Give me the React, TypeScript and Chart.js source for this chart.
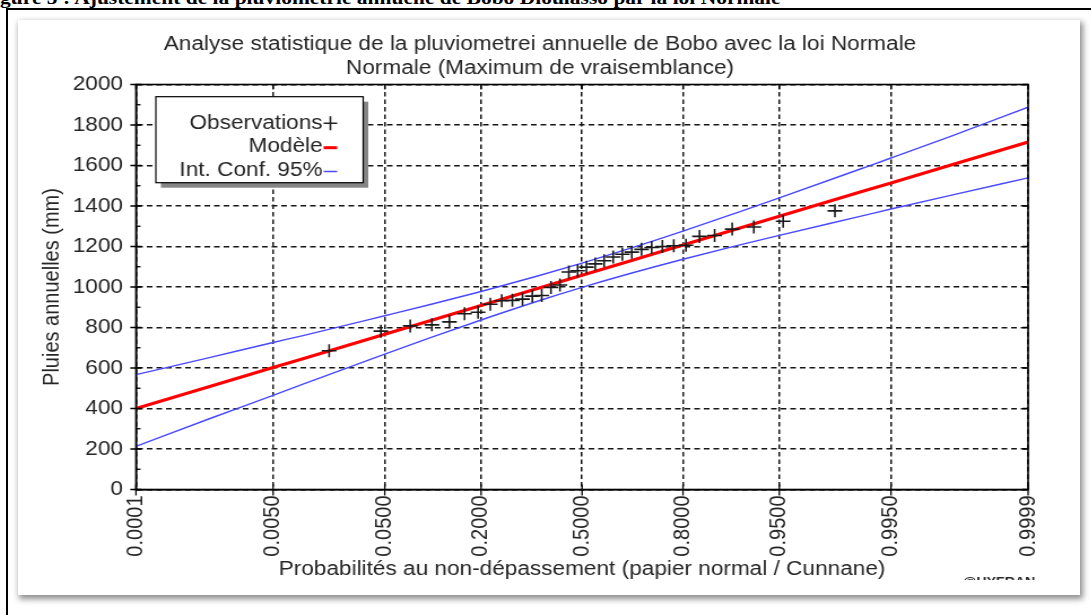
import React, { useEffect, useRef } from "react";
import { Chart, registerables } from "chart.js";

Chart.register(...registerables);

// ---- data ----
const TICK_PROBS = [0.0001, 0.005, 0.05, 0.2, 0.5, 0.8, 0.95, 0.995, 0.9999];
const TICK_LABELS = ["0.0001", "0.0050", "0.0500", "0.2000", "0.5000", "0.8000", "0.9500", "0.9950", "0.9999"];

const OBS_PROBS = [
  0.0175, 0.0468, 0.076, 0.1053, 0.1345, 0.1637, 0.193, 0.2222, 0.2515, 0.2807, 0.3099, 0.3392,
  0.3684, 0.3977, 0.4269, 0.4561, 0.4854, 0.5146, 0.5439, 0.5731, 0.6023, 0.6316, 0.6608, 0.6901,
  0.7193, 0.7485, 0.7778, 0.807, 0.8363, 0.8655, 0.8947, 0.924, 0.9532, 0.9825,
];
const OBS_VALUES = [
  685, 782, 808, 813, 828, 868, 875, 915, 932, 934, 940, 955, 958, 998, 1010, 1074, 1080, 1098,
  1114, 1130, 1148, 1162, 1172, 1186, 1195, 1200, 1204, 1206, 1250, 1254, 1286, 1296, 1325, 1376,
];

const CURVE_PROBS = [
  0.0001, 0.001, 0.005, 0.01, 0.05, 0.1, 0.2, 0.35, 0.5, 0.65, 0.8, 0.9, 0.95, 0.99, 0.995, 0.999, 0.9999,
];
const MODEL_VALUES = [400, 511, 602, 646, 767, 831, 909, 990, 1058, 1126, 1207, 1285, 1349, 1470, 1514, 1605, 1716];
const CI_UPPER = [567, 654, 726, 760, 858, 911, 978, 1052, 1118, 1188, 1276, 1365, 1440, 1584, 1637, 1748, 1888];
const CI_LOWER = [213, 353, 465, 520, 669, 746, 837, 927, 998, 1064, 1137, 1203, 1255, 1350, 1385, 1455, 1539];

const TITLE_LINES = [
  "Analyse statistique de la pluviometrei annuelle de Bobo avec la loi Normale",
  "Normale (Maximum de vraisemblance)",
];
const X_TITLE = "Probabilités au non-dépassement (papier normal / Cunnane)";
const Y_TITLE = "Pluies annuelles (mm)";
const LEGEND_LABELS = ["Observations", "Modèle", "Int. Conf. 95%"];
const CAPTION = "Figure 5 : Ajustement de la pluviométrie annuelle de Bobo Dioulasso par la loi Normale";

// inverse normal CDF (normal probability paper)
function probit(p: number): number {
  const a = [-39.69683028665376, 220.9460984245205, -275.9285104469687, 138.357751867269, -30.66479806614716, 2.506628277459239];
  const b = [-54.47609879822406, 161.5858368580409, -155.6989798598866, 66.80131188771972, -13.28068155288572];
  const c = [-0.007784894002430293, -0.3223964580411365, -2.400758277161838, -2.549732539343734, 4.374664141464968, 2.938163982698783];
  const d = [0.007784695709041462, 0.3224671290700398, 2.445134137142996, 3.754408661907416];
  const pl = 0.02425;
  if (p < pl) {
    const q = Math.sqrt(-2 * Math.log(p));
    return (((((c[0] * q + c[1]) * q + c[2]) * q + c[3]) * q + c[4]) * q + c[5]) / ((((d[0] * q + d[1]) * q + d[2]) * q + d[3]) * q + 1);
  }
  if (p > 1 - pl) {
    const q = Math.sqrt(-2 * Math.log(1 - p));
    return -(((((c[0] * q + c[1]) * q + c[2]) * q + c[3]) * q + c[4]) * q + c[5]) / ((((d[0] * q + d[1]) * q + d[2]) * q + d[3]) * q + 1);
  }
  const q = p - 0.5;
  const r = q * q;
  return ((((((a[0] * r + a[1]) * r + a[2]) * r + a[3]) * r + a[4]) * r + a[5]) * q) / (((((b[0] * r + b[1]) * r + b[2]) * r + b[3]) * r + b[4]) * r + 1);
}

const FONT = "'Liberation Sans', Arial, sans-serif";
const TEXT = "#262626";
const RED = "rgb(255,0,0)";
const BLUE = "rgb(72,72,255)";

const CANVAS_W = 924; // drawn width, stretched by CSS to 1044 (reference is horizontally stretched)
const CANVAS_H = 560;

const decorPlugin = {
  id: "decor",
  afterDraw(chart: any) {
    const { ctx, chartArea } = chart;
    const { left, right, top, bottom } = chartArea;
    const ys = chart.scales.y;
    const xs = chart.scales.x;
    ctx.save();
    // frame
    ctx.strokeStyle = "#000";
    ctx.lineWidth = 1.6;
    ctx.setLineDash([]);
    ctx.strokeRect(left, top, right - left, bottom - top);
    // y ticks
    ctx.lineWidth = 1.3;
    for (let v = 0; v <= 2000; v += 100) {
      const py = ys.getPixelForValue(v);
      ctx.beginPath();
      if (v % 200 === 0) {
        ctx.moveTo(left - 5, py);
        ctx.lineTo(left + 5, py);
        ctx.moveTo(right - 5, py);
        ctx.lineTo(right, py);
      } else {
        ctx.moveTo(left, py);
        ctx.lineTo(left + 4, py);
      }
      ctx.stroke();
    }
    // x ticks
    for (const p of TICK_PROBS) {
      const px = xs.getPixelForValue(probit(p));
      ctx.beginPath();
      ctx.moveTo(px, bottom - 5);
      ctx.lineTo(px, bottom + 6);
      ctx.moveTo(px, top);
      ctx.lineTo(px, top + 5);
      ctx.stroke();
    }
    // titles
    ctx.fillStyle = TEXT;
    ctx.font = `20px ${FONT}`;
    ctx.textAlign = "center";
    ctx.textBaseline = "middle";
    ctx.fillText(TITLE_LINES[0], CANVAS_W / 2, 24);
    ctx.fillText(TITLE_LINES[1], CANVAS_W / 2, 48);
    ctx.fillText(X_TITLE, (left + right) / 2, 549);
    ctx.save();
    ctx.translate(30, (top + bottom) / 2);
    ctx.rotate(-Math.PI / 2);
    ctx.fillText(Y_TITLE, 0, 0);
    ctx.restore();
    // watermark
    ctx.font = `bold 12.5px ${FONT}`;
    ctx.textAlign = "left";
    ctx.textBaseline = "top";
    ctx.fillText("@HYFRAN", 836, 556.5);
    // legend
    const bx = 122, by = 76.7, bw = 183.5, bh = 86;
    ctx.fillStyle = "#858585";
    ctx.fillRect(bx + 4.5, by + 5, bw, bh);
    ctx.fillStyle = "#fff";
    ctx.fillRect(bx, by, bw, bh);
    ctx.strokeStyle = "#000";
    ctx.lineWidth = 1.2;
    ctx.strokeRect(bx, by, bw, bh);
    ctx.fillStyle = TEXT;
    ctx.font = `20px ${FONT}`;
    ctx.textAlign = "right";
    ctx.textBaseline = "middle";
    const rows = [103.3, 126.7, 150.5];
    const tx = 269.6;
    LEGEND_LABELS.forEach((lab, i) => ctx.fillText(lab, tx, rows[i]));
    // symbols
    ctx.strokeStyle = "#222";
    ctx.lineWidth = 1.6;
    ctx.beginPath();
    ctx.moveTo(270.5, rows[0]);
    ctx.lineTo(282.5, rows[0]);
    ctx.moveTo(276.5, rows[0] - 7);
    ctx.lineTo(276.5, rows[0] + 7);
    ctx.stroke();
    ctx.strokeStyle = RED;
    ctx.lineWidth = 3;
    ctx.beginPath();
    ctx.moveTo(270.5, rows[1] + 1);
    ctx.lineTo(282.5, rows[1] + 1);
    ctx.stroke();
    ctx.strokeStyle = BLUE;
    ctx.lineWidth = 1.5;
    ctx.beginPath();
    ctx.moveTo(270.5, rows[2] + 1);
    ctx.lineTo(282.5, rows[2] + 1);
    ctx.stroke();
    ctx.restore();
  },
};

function ChartCanvas() {
  const ref = useRef<HTMLCanvasElement | null>(null);
  useEffect(() => {
    if (!ref.current) return;
    const curve = (vals: number[]) => CURVE_PROBS.map((p, i) => ({ x: probit(p), y: vals[i] }));
    const gridCommon = { color: "#161616", lineWidth: 1.5, drawTicks: false };
    const chart = new Chart(ref.current, {
      type: "scatter",
      data: {
        datasets: [
          {
            label: LEGEND_LABELS[0],
            data: OBS_PROBS.map((p, i) => ({ x: probit(p), y: OBS_VALUES[i] })),
            pointStyle: "cross",
            pointRadius: 6.5,
            pointBorderColor: "#1a1a1a",
            pointBorderWidth: 1.6,
            showLine: false,
            order: 0,
          },
          {
            label: LEGEND_LABELS[1],
            data: curve(MODEL_VALUES),
            showLine: true,
            borderColor: RED,
            borderWidth: 3.2,
            pointRadius: 0,
            order: 1,
          },
          {
            label: LEGEND_LABELS[2],
            data: curve(CI_UPPER),
            showLine: true,
            borderColor: BLUE,
            borderWidth: 1.4,
            pointRadius: 0,
            cubicInterpolationMode: "monotone",
            order: 2,
          },
          {
            label: "lower",
            data: curve(CI_LOWER),
            showLine: true,
            borderColor: BLUE,
            borderWidth: 1.4,
            pointRadius: 0,
            cubicInterpolationMode: "monotone",
            order: 3,
          },
        ],
      },
      options: {
        animation: false,
        responsive: false,
        devicePixelRatio: 1,
        layout: { padding: { top: 64.5, right: 19.6, left: 0, bottom: 0 } },
        plugins: { legend: { display: false }, title: { display: false }, tooltip: { enabled: false } },
        scales: {
          x: {
            type: "linear",
            min: probit(TICK_PROBS[0]),
            max: probit(TICK_PROBS[TICK_PROBS.length - 1]),
            afterBuildTicks: (s: any) => {
              s.ticks = TICK_PROBS.map((p) => ({ value: probit(p) }));
            },
            afterFit: (s: any) => {
              s.height = CANVAS_H - 469.5;
            },
            ticks: {
              autoSkip: false,
              minRotation: 90,
              maxRotation: 90,
              padding: 6,
              color: TEXT,
              font: { family: FONT, size: 20 },
              callback: (_v: any, i: number) => TICK_LABELS[i],
            },
            grid: gridCommon,
            border: { display: true, color: "#000", width: 1.5, dash: [4.5, 3] },
          },
          y: {
            type: "linear",
            min: 0,
            max: 2000,
            afterFit: (s: any) => {
              s.width = 104.4;
            },
            ticks: {
              stepSize: 200,
              padding: 11.5,
              color: TEXT,
              font: { family: FONT, size: 20 },
              callback: (v: any) => String(v),
            },
            grid: gridCommon,
            border: { display: true, color: "#000", width: 1.5, dash: [5, 3.5] },
          },
        },
      },
      plugins: [decorPlugin],
    } as any);
    return () => chart.destroy();
  }, []);
  return (
    <canvas
      ref={ref}
      width={CANVAS_W}
      height={CANVAS_H}
      style={{ position: "absolute", left: 0, top: 0, width: "1044px", height: `${CANVAS_H}px` }}
    />
  );
}

export default function App() {
  return (
    <div style={{ position: "absolute", left: 0, top: 0, width: 1091, height: 615, overflow: "hidden", background: "#fff" }}>
      <div
        style={{
          position: "absolute",
          left: -19,
          top: -13,
          whiteSpace: "nowrap",
          font: `bold 19px 'Liberation Serif', 'Times New Roman', serif`,
          transform: "scaleX(1.13)",
          transformOrigin: "left top",
          color: "#000",
        }}
      >
        {CAPTION}
      </div>
      <div style={{ position: "absolute", left: 6, top: 8, width: 1085, height: 2, background: "#000" }} />
      <div style={{ position: "absolute", left: 6, top: 8, width: 2, height: 607, background: "#000" }} />
      <div
        style={{
          position: "absolute",
          left: 18,
          top: 20,
          width: 1062,
          height: 575,
          background: "#fff",
          boxShadow: "2px 3px 6px 1px rgba(0,0,0,0.45)",
        }}
      >
        <ChartCanvas />
      </div>
    </div>
  );
}
